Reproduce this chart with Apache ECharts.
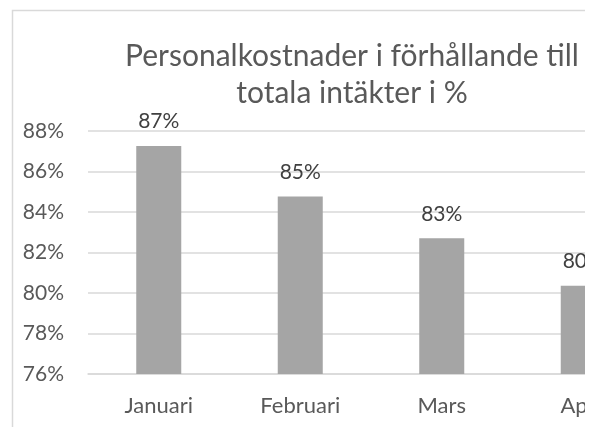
<!DOCTYPE html>
<html lang="sv">
<head>
<meta charset="utf-8" />
<title>Personalkostnader</title>
<script src="https://cdn.jsdelivr.net/npm/echarts@6/dist/echarts.min.js"></script>
<style>
  html, body { margin: 0; padding: 0; background: #fff; }
  #clip { width: 585px; height: 427px; overflow: hidden; position: relative; }
  #main { width: 704px; height: 427px; }
</style>
</head>
<body>
<div id="clip"><div id="main"></div></div>
<script>
var months = ['Januari', 'Februari', 'Mars', 'April'];
var values = [87.26, 84.76, 82.7, 80.36];
var yTicks = { min: 76, max: 88, step: 2 };

var FONT = 'Lato, "Open Sans", sans-serif';
var myChart = echarts.init(document.getElementById('main'));

var option = {
  animation: false,
  graphic: [{
    type: 'rect',
    shape: { x: 12.5, y: 10.5, width: 680, height: 440 },
    style: { fill: 'none', stroke: '#d9d9d9', lineWidth: 1.5 },
    silent: true
  }],
  title: {
    text: 'Personalkostnader i förhållande till\ntotala intäkter i %',
    left: 'center',
    top: 33,
    textStyle: { fontFamily: FONT, fontSize: 30, fontWeight: 'normal', color: '#595959', lineHeight: 37 }
  },
  grid: { left: 88, right: 50, top: 131, bottom: 53 },
  xAxis: {
    type: 'category',
    data: months,
    axisLine: { lineStyle: { color: '#d9d9d9', width: 1.5 } },
    axisTick: { show: false },
    axisLabel: { fontFamily: FONT, fontSize: 22, color: '#595959', margin: 21 }
  },
  yAxis: {
    type: 'value',
    min: yTicks.min,
    max: yTicks.max,
    interval: yTicks.step,
    axisLine: { show: false },
    axisTick: { show: false },
    splitLine: { lineStyle: { color: '#d9d9d9', width: 1.5 } },
    axisLabel: {
      fontFamily: FONT, fontSize: 21, color: '#595959', margin: 24,
      formatter: function (v) { return v + '%'; }
    }
  },
  series: [{
    type: 'bar',
    data: values,
    barWidth: 45,
    itemStyle: { color: '#a5a5a5' },
    label: {
      show: true,
      position: 'top',
      distance: 14,
      fontFamily: FONT, fontSize: 21, color: '#404040',
      formatter: function (p) { return Math.round(p.value) + '%'; }
    }
  }]
};

myChart.setOption(option);
</script>
</body>
</html>
